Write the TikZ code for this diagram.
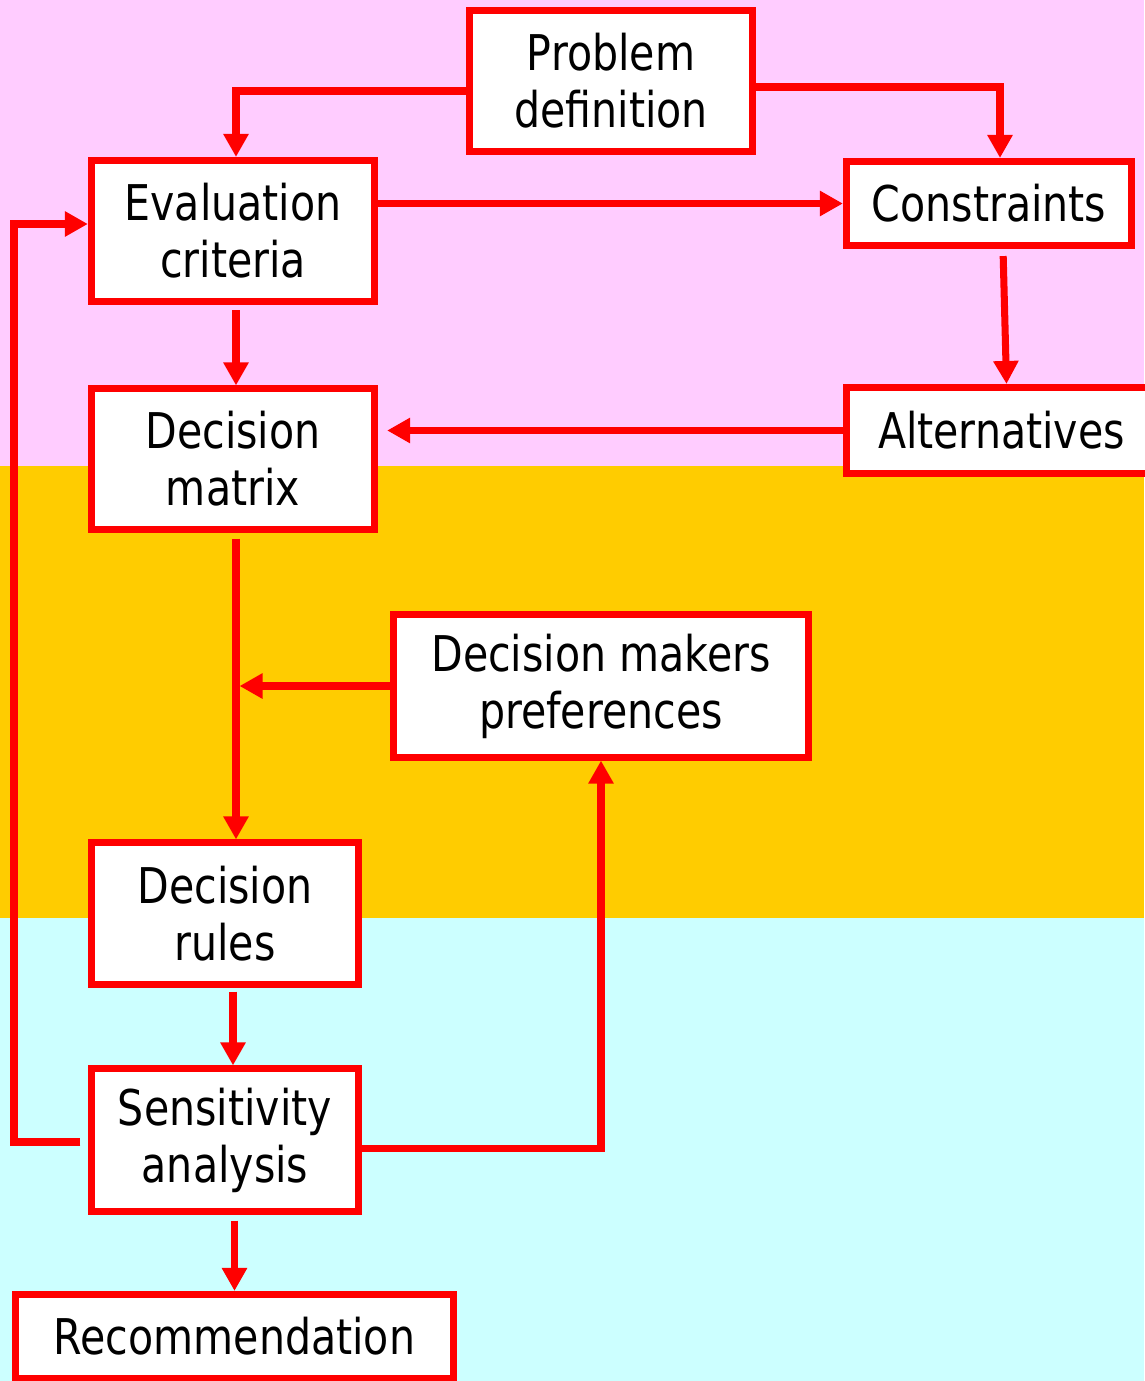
\documentclass[tikz,border=0pt]{standalone}
\usepackage{fontspec}
\setmainfont{DejaVu Sans}[FakeStretch=0.835]
\usepackage{xcolor}
\usepackage{tikz}
\usetikzlibrary{arrows.meta,positioning}

\definecolor{bandpink}{HTML}{FFCCFF}
\definecolor{bandgold}{HTML}{FFCC00}
\definecolor{bandcyan}{HTML}{CCFFFF}

\begin{document}
\begin{tikzpicture}[
    x=0.01cm, y=0.01cm,
    stage/.style = {draw=red, line width=2pt, fill=white, align=center,
                    inner sep=0pt, font=\fontsize{14pt}{16.2pt}\selectfont},
    flow/.style  = {draw=red, line width=2pt,
                    -{Triangle[length=0.23cm,width=0.24cm]}}
]
    \useasboundingbox (0,0) rectangle (1144,-1381);

    %-- Background bands -----------------------------------------------------
    \fill[bandpink] (0,0)     rectangle (1144,-466);
    \fill[bandgold] (0,-466)  rectangle (1144,-918);
    \fill[bandcyan] (0,-918)  rectangle (1144,-1381);

    %-- Stages ---------------------------------------------------------------
    \node[stage, minimum width=2.83cm, minimum height=1.41cm] (prob)
          at (611,-81)     {Problem\\definition};
    \node[stage, minimum width=2.83cm, minimum height=1.41cm] (eval)
          at (233,-231)    {Evaluation\\criteria};
    \node[stage, minimum width=2.85cm, minimum height=0.84cm] (cons)
          at (989,-203.5)  {Constraints};
    \node[stage, minimum width=2.83cm, minimum height=1.40cm] (mat)
          at (233,-459)    {Decision\\matrix};
    % Alternatives runs past the right edge of the picture
    \node[stage, minimum width=3.10cm, minimum height=0.86cm] (alt)
          at (1001.5,-430.5) {Alternatives};
    \node[stage, minimum width=4.15cm, minimum height=1.42cm] (pref)
          at (601,-686)    {Decision makers\\preferences};
    \node[stage, minimum width=2.67cm, minimum height=1.41cm] (rules)
          at (225,-913.5)  {Decision\\rules};
    \node[stage, minimum width=2.67cm, minimum height=1.42cm] (sens)
          at (225,-1140)   {Sensitivity\\analysis};
    \node[stage, minimum width=4.38cm, minimum height=0.84cm] (rec)
          at (234.5,-1336.5) {Recommendation};

    %-- Helper points --------------------------------------------------------
    \coordinate (trunk) at ([xshift=0.03cm]mat.south);
    \coordinate (loop)  at (14,-1142);

    %-- Top part: problem, criteria, constraints, alternatives ---------------
    \draw[flow] ([yshift=-0.10cm]prob.west) -| ([xshift=0.03cm]eval.north);
    \draw[flow] ([yshift=-0.06cm]prob.east) -| ([xshift=0.11cm]cons.north);
    \draw[flow] (eval.east |- cons.west) -- (cons.west);
    \draw[flow, shorten <=0.07cm] ([xshift=0.14cm]cons.south)
          -- ([xshift=0.05cm]alt.north);
    \draw[flow, shorten <=0.05cm] ([xshift=0.03cm]eval.south)
          -- ([xshift=0.03cm]mat.north);
    \draw[flow, shorten >=0.09cm] (alt.west) -- (mat.east |- alt.west);

    %-- Middle part: matrix, preferences, rules ------------------------------
    \draw[flow, shorten <=0.06cm] (trunk) -- (trunk |- rules.north);
    \draw[flow, shorten >=0.035cm] (pref.west) -- (trunk |- pref.west);
    \draw[flow, shorten <=0.04cm] ([xshift=0.08cm]rules.south)
          -- ([xshift=0.08cm]sens.north);

    %-- Bottom part: feedback loops and recommendation -----------------------
    \draw[flow] ([yshift=-0.08cm]sens.east) -| (pref.south);
    \draw[flow, shorten <=0.075cm] (sens.west |- loop) -- (loop)
          |- ([yshift=0.07cm]eval.west);
    \draw[flow, shorten <=0.06cm] (sens.south -| rec.north) -- (rec.north);

\end{tikzpicture}
\end{document}
